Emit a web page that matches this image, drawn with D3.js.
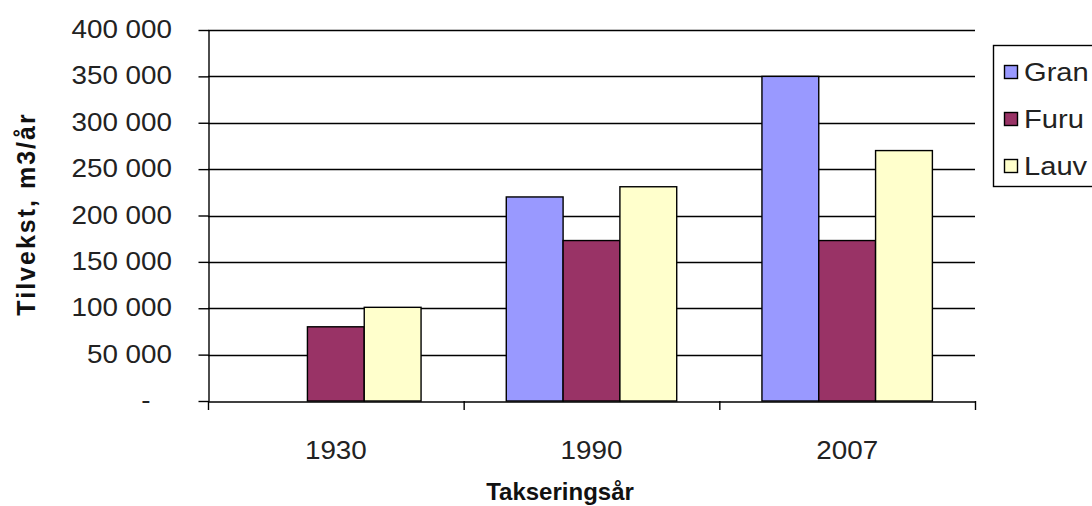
<!DOCTYPE html>
<html>
<head>
<meta charset="utf-8">
<script src="https://cdn.jsdelivr.net/npm/d3@7"></script>
<style>
  html, body { margin: 0; padding: 0; background: #fff; }
  svg { display: block; font-family: Arial, "Liberation Sans", sans-serif; }
  .tick-label { fill: #222; font-size: 26px; }
  .axis-title { fill: #111; font-weight: bold; }
</style>
</head>
<body>
<svg id="chart" width="1092" height="506"></svg>
<script>
'use strict';

// Data
const years = ['1930', '1990', '2007'];
const series = ['Gran', 'Furu', 'Lauv'];
const gran = [0, 220000, 350000];
const furu = [80000, 173000, 173000];
const lauv = [101000, 231000, 270000];
const yTicks = [0, 50000, 100000, 150000, 200000, 250000, 300000, 350000, 400000];
const colors = ['#9999ff', '#993366', '#ffffcc'];

const values = [gran, furu, lauv];
const STRETCH = 1.07;

const svg = d3.select('#chart');

const x = d3.scaleBand()
  .domain(years)
  .range([208, 975]);

const xInner = d3.scaleBand()
  .domain(series)
  .range([0, x.bandwidth()])
  .paddingInner(0)
  .paddingOuter(0.75);

const y = d3.scaleLinear()
  .domain([0, 400000])
  .range([401, 30]);

const fmt = v => v === 0 ? '-' : d3.format(',')(v).replace(/,/g, ' ');

// Gridlines
svg.append('g')
  .selectAll('line')
  .data(yTicks.filter(d => d > 0))
  .enter()
  .append('line')
    .attr('x1', 208)
    .attr('x2', 975)
    .attr('y1', d => Math.round(y(d)) + 0.5)
    .attr('y2', d => Math.round(y(d)) + 0.5)
    .attr('stroke', '#000')
    .attr('stroke-width', 1.4);

// Bars
const groups = svg.append('g')
  .selectAll('g')
  .data(years)
  .enter()
  .append('g')
    .attr('transform', d => 'translate(' + x(d) + ',0)');

groups.selectAll('rect')
  .data((d, i) => series.map((s, j) => ({ key: s, value: values[j][i], color: colors[j] })))
  .enter()
  .filter(d => d.value > 0)
  .append('rect')
    .attr('x', d => xInner(d.key))
    .attr('y', d => y(d.value))
    .attr('width', xInner.bandwidth())
    .attr('height', d => y(0) - y(d.value))
    .attr('fill', d => d.color)
    .attr('stroke', '#000')
    .attr('stroke-width', 1.4);

// Y axis
const yAxis = svg.append('g')
  .attr('transform', 'translate(208.5,0)')
  .call(d3.axisLeft(y).tickValues(yTicks).tickSize(10).tickSizeOuter(0).tickFormat(''));

yAxis.selectAll('path, line').attr('stroke', '#000').attr('stroke-width', 1.4);

svg.append('g')
  .selectAll('text')
  .data(yTicks)
  .enter()
  .append('text')
    .attr('class', 'tick-label')
    .attr('text-anchor', d => d === 0 ? 'middle' : 'end')
    .attr('transform', d => 'translate(' + (d === 0 ? 146 : 172) + ',' + (y(d) + 8) + ') scale(' + STRETCH + ',1)')
    .text(fmt);

// X axis
const xAxis = svg.append('g')
  .attr('transform', 'translate(0,401.5)')
  .call(d3.axisBottom(x).tickSize(0).tickSizeOuter(0).tickFormat(''));

xAxis.select('path').attr('stroke', '#000').attr('stroke-width', 1.4);

svg.append('g')
  .selectAll('line')
  .data(years.map(d => x(d)).concat([x.range()[1]]))
  .enter()
  .append('line')
    .attr('x1', d => d + 0.5)
    .attr('x2', d => d + 0.5)
    .attr('y1', 401)
    .attr('y2', 410)
    .attr('stroke', '#000')
    .attr('stroke-width', 1.4);

svg.append('g')
  .selectAll('text')
  .data(years)
  .enter()
  .append('text')
    .attr('class', 'tick-label')
    .attr('text-anchor', 'middle')
    .attr('transform', d => 'translate(' + (x(d) + x.bandwidth() / 2) + ',459) scale(' + STRETCH + ',1)')
    .text(d => d);

// Axis titles
svg.append('text')
  .attr('class', 'axis-title')
  .attr('text-anchor', 'middle')
  .attr('font-size', 24)
  .attr('transform', 'translate(560,500)')
  .text('Takseringsår');

svg.append('text')
  .attr('class', 'axis-title')
  .attr('text-anchor', 'middle')
  .attr('font-size', 25)
  .attr('letter-spacing', 2)
  .attr('transform', 'translate(35,214) rotate(-90)')
  .text('Tilvekst, m3/år');

// Legend
const legend = svg.append('g')
  .attr('transform', 'translate(993,45)');

legend.append('rect')
  .attr('x', 0.5)
  .attr('y', 0.5)
  .attr('width', 120)
  .attr('height', 141)
  .attr('fill', '#fff')
  .attr('stroke', '#000')
  .attr('stroke-width', 1.4);

const items = legend.selectAll('.item')
  .data(series)
  .enter()
  .append('g')
    .attr('class', 'item')
    .attr('transform', (d, i) => 'translate(0,' + (27 + i * 47) + ')');

items.append('rect')
  .attr('x', 11.5)
  .attr('y', -6.5)
  .attr('width', 13)
  .attr('height', 13)
  .attr('fill', (d, i) => colors[i])
  .attr('stroke', '#000')
  .attr('stroke-width', 1.4);

items.append('text')
  .attr('class', 'tick-label')
  .attr('transform', 'translate(31,9) scale(1.12,1)')
  .text(d => d);
</script>
</body>
</html>
